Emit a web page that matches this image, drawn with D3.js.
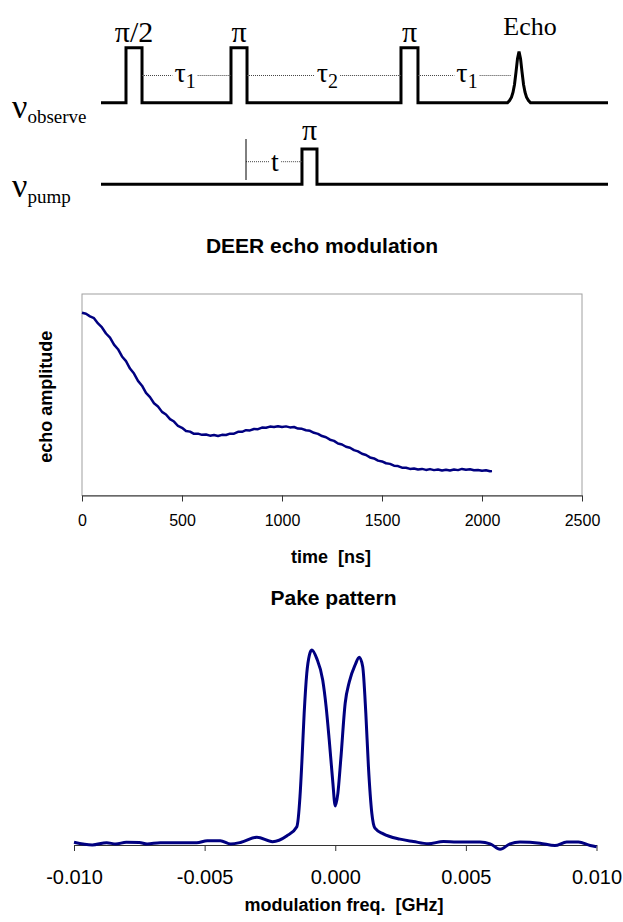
<!DOCTYPE html>
<html>
<head>
<meta charset="utf-8">
<script src="https://cdn.jsdelivr.net/npm/d3@7"></script>
<style>
body { margin: 0; background: #fff; }
text { white-space: pre; }
</style>
</head>
<body>
<div id="chart"></div>
<script>
// ---- pulse sequence (schematic units 0..100 along the time line) ----
var observePulses = [
    {label: "π/2", start: 4.93, end: 8.09},
    {label: "π", start: 25.64, end: 28.80},
    {label: "π", start: 59.17, end: 62.52}
];
var pumpPulses = [
    {label: "π", start: 39.64, end: 42.60}
];
var echoCenter = 82.45;
var echoOffset = [-2.27, -1.87, -1.48, -1.18, -0.89, -0.59, -0.30, 0, 0.30, 0.59, 0.89, 1.18, 1.48, 1.87, 2.27];
var echoShape = [0, 0.04, 0.10, 0.19, 0.33, 0.56, 0.80, 0.93, 0.80, 0.56, 0.33, 0.19, 0.10, 0.04, 0];
var delays = [
    {sym: "τ", sub: "1", from: 8.09, to: 25.64, at: 16.57},
    {sym: "τ", sub: "2", from: 28.80, to: 59.17, at: 44.67},
    {sym: "τ", sub: "1", from: 62.52, to: 80.9, at: 72.19}
];
var tMarker = 28.60;
var tLabelAt = 34.32;

// ---- DEER echo modulation ----
var echoTime = [0, 20, 40, 60, 80, 100, 120, 140, 160, 180, 200, 220, 240, 260, 280, 300, 320, 340, 360, 380,
    400, 420, 440, 460, 480, 500, 520, 540, 560, 580, 600, 620, 640, 660, 680, 700, 720, 740, 760, 780,
    800, 820, 840, 860, 880, 900, 920, 940, 960, 980, 1000, 1020, 1040, 1060, 1080, 1100, 1120, 1140, 1160, 1180,
    1200, 1220, 1240, 1260, 1280, 1300, 1320, 1340, 1360, 1380, 1400, 1420, 1440, 1460, 1480, 1500, 1520, 1540, 1560, 1580,
    1600, 1620, 1640, 1660, 1680, 1700, 1720, 1740, 1760, 1780, 1800, 1820, 1840, 1860, 1880, 1900, 1920, 1940, 1960, 1980,
    2000, 2020, 2040, 2050];
var echoAmp = [0.907, 0.902, 0.889, 0.880, 0.854, 0.834, 0.804, 0.783, 0.749, 0.726, 0.690, 0.667, 0.630, 0.605, 0.569, 0.545, 0.509, 0.488, 0.458, 0.442,
    0.415, 0.402, 0.379, 0.367, 0.345, 0.336, 0.320, 0.317, 0.306, 0.307, 0.301, 0.303, 0.297, 0.300, 0.295, 0.301, 0.300, 0.307, 0.307, 0.316,
    0.316, 0.324, 0.323, 0.330, 0.329, 0.337, 0.336, 0.342, 0.340, 0.344, 0.340, 0.343, 0.338, 0.340, 0.332, 0.331, 0.324, 0.321, 0.311, 0.306,
    0.295, 0.289, 0.277, 0.271, 0.258, 0.253, 0.242, 0.237, 0.225, 0.219, 0.207, 0.201, 0.189, 0.184, 0.173, 0.169, 0.160, 0.157, 0.148, 0.146,
    0.138, 0.138, 0.132, 0.134, 0.129, 0.132, 0.127, 0.131, 0.126, 0.129, 0.124, 0.128, 0.124, 0.129, 0.126, 0.132, 0.128, 0.130, 0.125, 0.127,
    0.123, 0.125, 0.120, 0.121];
var echoTicks = [0, 500, 1000, 1500, 2000, 2500];

// ---- Pake pattern ----
var pakeFreq = [-0.0100, -0.0093, -0.00875, -0.0084, -0.0080, -0.0075, -0.0072, -0.0067, -0.0053, -0.0049,
    -0.0044, -0.0040, -0.0036, -0.0030, -0.0024, -0.00186, -0.00147, -0.00135, -0.00128, -0.00119,
    -0.00109, -0.00099, -0.0009, -0.00071, -0.00048, -0.00035, -0.00023, -0.0001, 0, 0.0001,
    0.00021, 0.00038, 0.00054, 0.00076, 0.00092, 0.00105, 0.00117, 0.00127, 0.0014, 0.00152,
    0.00184, 0.00248, 0.00299, 0.00356, 0.00414, 0.00465, 0.00554, 0.00593, 0.00631, 0.00669,
    0.00707, 0.00784, 0.00841, 0.00886, 0.00931, 0.00976, 0.0100];
var pakeAmp = [0.014, 0.000, 0.012, 0.005, 0.014, 0.013, 0.005, 0.012, 0.012, 0.022,
    0.022, 0.005, 0.014, 0.040, 0.017, 0.046, 0.094, 0.248, 0.419, 0.675,
    0.880, 0.974, 1.000, 0.957, 0.846, 0.710, 0.538, 0.333, 0.200, 0.265,
    0.436, 0.727, 0.838, 0.923, 0.963, 0.915, 0.676, 0.402, 0.163, 0.086,
    0.057, 0.030, 0.018, 0.006, 0.018, 0.015, 0.015, 0.006, -0.022, 0.006,
    0.015, 0.009, -0.003, 0.015, 0.015, -0.003, -0.009];
var pakeTicks = [-0.010, -0.005, 0, 0.005, 0.010];

var serif = "'Liberation Serif', 'Times New Roman', serif";
var sans = "'Liberation Sans', Arial, sans-serif";
var navy = "#000080";

var svg = d3.select("#chart").append("svg")
    .attr("width", 623)
    .attr("height", 922);

// ================= pulse sequence =================
var sx = d3.scaleLinear().domain([0, 100]).range([101, 608]);
var yObs = d3.scaleLinear().domain([0, 1]).range([102.7, 47.7]);
var yPump = d3.scaleLinear().domain([0, 1]).range([184.3, 149]);

function pulsePoints(pulses) {
    var pts = [[0, 0]];
    pulses.forEach(function(p) {
        pts.push([p.start, 0], [p.start, 1], [p.end, 1], [p.end, 0]);
    });
    return pts;
}

var obsPts = pulsePoints(observePulses);
echoOffset.forEach(function(o, i) { obsPts.push([echoCenter + o, echoShape[i]]); });
obsPts.push([100, 0]);

var pumpPts = pulsePoints(pumpPulses);
pumpPts.push([100, 0]);

svg.append("path")
    .attr("d", d3.line().x(function(d) { return sx(d[0]); }).y(function(d) { return yObs(d[1]); })(obsPts))
    .attr("fill", "none")
    .attr("stroke", "#000")
    .attr("stroke-width", 3);

svg.append("path")
    .attr("d", d3.line().x(function(d) { return sx(d[0]); }).y(function(d) { return yPump(d[1]); })(pumpPts))
    .attr("fill", "none")
    .attr("stroke", "#000")
    .attr("stroke-width", 3);

// pulse labels
svg.selectAll(".obsLabel")
    .data(observePulses)
    .enter().append("text")
    .attr("x", function(d) { return sx((d.start + d.end) / 2); })
    .attr("y", 42)
    .attr("text-anchor", "middle")
    .style("font-family", serif)
    .style("font-size", "30px")
    .text(function(d) { return d.label; });

svg.selectAll(".pumpLabel")
    .data(pumpPulses)
    .enter().append("text")
    .attr("x", function(d) { return sx((d.start + d.end) / 2); })
    .attr("y", 140)
    .attr("text-anchor", "middle")
    .style("font-family", serif)
    .style("font-size", "30px")
    .text(function(d) { return d.label; });

svg.append("text")
    .attr("x", sx(echoCenter) + 11)
    .attr("y", 35)
    .attr("text-anchor", "middle")
    .style("font-family", serif)
    .style("font-size", "26px")
    .text("Echo");

// dotted delay lines with a gap for the label
function dottedWithLabel(from, to, at, y, baseline, build) {
    var t = svg.append("text")
        .attr("x", sx(at))
        .attr("y", baseline)
        .attr("text-anchor", "middle")
        .style("font-family", serif);
    build(t);
    var bb = t.node().getBBox();
    [[sx(from), bb.x - 2], [bb.x + bb.width + 2, sx(to)]].forEach(function(seg) {
        svg.append("line")
            .attr("x1", seg[0]).attr("x2", seg[1])
            .attr("y1", y).attr("y2", y)
            .attr("stroke", "#444")
            .attr("stroke-width", 1)
            .attr("stroke-dasharray", "1,1");
    });
}

delays.forEach(function(d) {
    dottedWithLabel(d.from, d.to, d.at, 75.5, 82, function(t) {
        t.append("tspan").style("font-size", "28px").text(d.sym);
        t.append("tspan").style("font-size", "20px").attr("dy", 6).text(d.sub);
    });
});

dottedWithLabel(tMarker, pumpPulses[0].start, tLabelAt, 161.7, 171, function(t) {
    t.append("tspan").style("font-size", "28px").text("t");
});

svg.append("line")
    .attr("x1", sx(tMarker)).attr("x2", sx(tMarker))
    .attr("y1", 139).attr("y2", 180)
    .attr("stroke", "#000")
    .attr("stroke-width", 1);

// channel names
var nuObs = svg.append("text").attr("x", 12).attr("y", 118).style("font-family", serif);
nuObs.append("tspan").style("font-size", "34px").text("ν");
nuObs.append("tspan").style("font-size", "19px").attr("dy", 5).text("observe");

var nuPump = svg.append("text").attr("x", 12).attr("y", 197).style("font-family", serif);
nuPump.append("tspan").style("font-size", "34px").text("ν");
nuPump.append("tspan").style("font-size", "19px").attr("dy", 6).text("pump");

// ================= DEER echo modulation =================
var m1 = {left: 82, right: 582, top: 294, bottom: 495.5};
var x1 = d3.scaleLinear().domain([0, 2500]).range([m1.left, m1.right]);
var y1 = d3.scaleLinear().domain([0, 1]).range([m1.bottom, m1.top]);

svg.append("rect")
    .attr("x", m1.left)
    .attr("y", m1.top)
    .attr("width", m1.right - m1.left)
    .attr("height", m1.bottom - m1.top)
    .attr("fill", "none")
    .attr("stroke", "#a0a0a0")
    .attr("stroke-width", 1);

var ax1 = svg.append("g")
    .attr("transform", "translate(0," + m1.bottom + ")")
    .call(d3.axisBottom(x1).tickValues(echoTicks).tickSize(6).tickSizeOuter(0).tickPadding(13).tickFormat(d3.format("d")));
ax1.select(".domain").attr("stroke", "#333");
ax1.selectAll(".tick line").attr("stroke", "#333");
ax1.selectAll(".tick text")
    .attr("fill", "#000")
    .style("font-family", sans)
    .style("font-size", "16px");

var echoData = echoTime.map(function(t, i) { return [t, echoAmp[i]]; });
svg.append("path")
    .datum(echoData)
    .attr("d", d3.line().x(function(d) { return x1(d[0]); }).y(function(d) { return y1(d[1]); }))
    .attr("fill", "none")
    .attr("stroke", navy)
    .attr("stroke-width", 2.5)
    .attr("stroke-linejoin", "round");

svg.append("text")
    .attr("x", 322).attr("y", 253)
    .attr("text-anchor", "middle")
    .style("font-family", sans).style("font-size", "21px").style("font-weight", "bold")
    .text("DEER echo modulation");

svg.append("text")
    .attr("x", 331).attr("y", 563)
    .attr("text-anchor", "middle")
    .style("font-family", sans).style("font-size", "18px").style("font-weight", "bold")
    .text("time  [ns]");

svg.append("text")
    .attr("transform", "translate(52," + ((m1.top + m1.bottom) / 2 + 2) + ") rotate(-90)")
    .attr("text-anchor", "middle")
    .style("font-family", sans).style("font-size", "18px").style("font-weight", "bold")
    .text("echo amplitude");

// ================= Pake pattern =================
var m2 = {left: 74, right: 596.5, top: 650, bottom: 845};
var x2 = d3.scaleLinear().domain([-0.01, 0.01]).range([m2.left, m2.right]);
var y2 = d3.scaleLinear().domain([0, 1]).range([m2.bottom, m2.top]);

var ax2 = svg.append("g")
    .attr("transform", "translate(0," + m2.bottom + ")")
    .call(d3.axisBottom(x2).tickValues(pakeTicks).tickSize(6).tickSizeOuter(0).tickPadding(19)
        .tickFormat(function(d) { return d.toFixed(3); }));
ax2.select(".domain").attr("stroke", "#333");
ax2.selectAll(".tick line").attr("stroke", "#333");
ax2.selectAll(".tick text")
    .attr("fill", "#000")
    .style("font-family", sans)
    .style("font-size", "20px");

var pakeData = pakeFreq.map(function(f, i) { return [f, pakeAmp[i]]; });
svg.append("path")
    .datum(pakeData)
    .attr("d", d3.line().curve(d3.curveMonotoneX).x(function(d) { return x2(d[0]); }).y(function(d) { return y2(d[1]); }))
    .attr("fill", "none")
    .attr("stroke", navy)
    .attr("stroke-width", 3)
    .attr("stroke-linejoin", "round");

svg.append("text")
    .attr("x", 333.5).attr("y", 605)
    .attr("text-anchor", "middle")
    .style("font-family", sans).style("font-size", "21px").style("font-weight", "bold")
    .text("Pake pattern");

svg.append("text")
    .attr("x", 344).attr("y", 911)
    .attr("text-anchor", "middle")
    .style("font-family", sans).style("font-size", "18px").style("font-weight", "bold")
    .text("modulation freq.  [GHz]");
</script>
</body>
</html>
